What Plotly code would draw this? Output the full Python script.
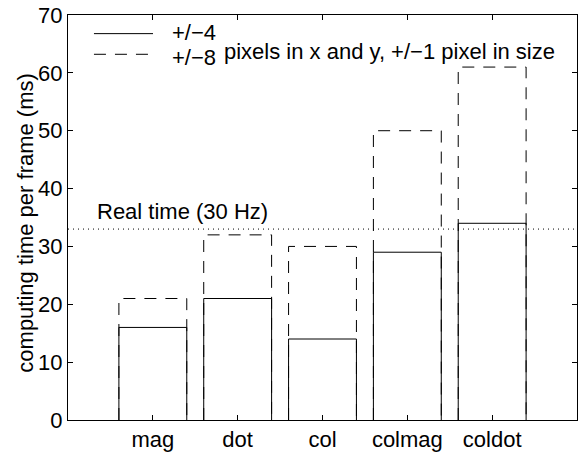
import plotly.graph_objects as go

categories = ["mag", "dot", "col", "colmag", "coldot"]
t_pm4 = [16, 21, 14, 29, 34]      # +/-4 search (solid)
t_pm8 = [21, 32, 30, 50, 61]      # +/-8 search (dashed)
realtime_ms = 33                  # 30 Hz limit
y_ticks = [0, 10, 20, 30, 40, 50, 60, 70]
legend_labels = ["+/\u22124", "+/\u22128"]
legend_note = "pixels in x and y, +/\u22121 pixel in size"
realtime_label = "Real time (30 Hz)"
y_title = "computing time per frame (ms)"

FONT = "Liberation Sans, Arial, Helvetica, sans-serif"
FS = 22
bar_w = 0.8
DASH = "12px,9px"

fig = go.Figure()

def bar_outline(values, dash, name):
    xs, ys = [], []
    for i, v in enumerate(values, start=1):
        xs += [i - bar_w / 2, i - bar_w / 2, i + bar_w / 2, i + bar_w / 2, None]
        ys += [0, v, v, 0, None]
    fig.add_trace(go.Scatter(x=xs, y=ys, mode="lines", name=name,
                             line=dict(color="black", width=1, dash=dash),
                             showlegend=False, hoverinfo="skip"))

bar_outline(t_pm8, DASH, legend_labels[1])
bar_outline(t_pm4, "solid", legend_labels[0])

# real-time line
fig.add_shape(type="line", xref="paper", x0=0, x1=1, yref="y",
              y0=realtime_ms, y1=realtime_ms,
              line=dict(color="black", width=1, dash="1px,4px"))
fig.add_annotation(x=0.315, y=realtime_ms + 3.0, xref="x", yref="y",
                   text=realtime_label, showarrow=False, xanchor="left",
                   yanchor="middle", font=dict(family=FONT, size=FS, color="black"))

# legend drawn manually
fig.add_shape(type="line", xref="paper", yref="paper", x0=0.051, x1=0.167,
              y0=0.954, y1=0.954, line=dict(color="black", width=1))
fig.add_shape(type="line", xref="paper", yref="paper", x0=0.051, x1=0.167,
              y0=0.903, y1=0.903, line=dict(color="black", width=1, dash=DASH))
fig.add_annotation(x=0.201, y=0.956, xref="paper", yref="paper", text=legend_labels[0],
                   showarrow=False, xanchor="left", yanchor="middle",
                   font=dict(family=FONT, size=FS, color="black"))
fig.add_annotation(x=0.201, y=0.895, xref="paper", yref="paper", text=legend_labels[1],
                   showarrow=False, xanchor="left", yanchor="middle",
                   font=dict(family=FONT, size=FS, color="black"))
fig.add_annotation(x=0.303, y=0.910, xref="paper", yref="paper", text=legend_note,
                   showarrow=False, xanchor="left", yanchor="middle",
                   font=dict(family=FONT, size=FS, color="black"))

# y-axis title
fig.add_annotation(x=-0.083, y=0.4866, xref="paper", yref="paper", text=y_title,
                   textangle=-90, showarrow=False, xanchor="center", yanchor="middle",
                   font=dict(family=FONT, size=FS, color="black"))

fig.update_layout(
    width=581, height=455,
    margin=dict(l=68, r=3, t=13, b=32, pad=0),
    paper_bgcolor="white", plot_bgcolor="white",
    font=dict(family=FONT, size=FS, color="black"),
    showlegend=False,
)
fig.update_xaxes(range=[0, 6], tickvals=list(range(1, len(categories) + 1)),
                 ticktext=categories, showgrid=False, zeroline=False,
                 showline=True, linecolor="black", linewidth=1, mirror="ticks",
                 ticks="inside", ticklen=5, tickcolor="black",
                 ticklabeloverflow="allow",
                 tickfont=dict(family=FONT, size=FS, color="black"))
fig.update_yaxes(range=[0, 70], tickvals=y_ticks, showgrid=False, zeroline=False,
                 showline=True, linecolor="black", linewidth=1, mirror="ticks",
                 ticks="inside", ticklen=5, tickcolor="black",
                 ticklabeloverflow="allow",
                 tickfont=dict(family=FONT, size=FS, color="black"))

fig.write_html("out.html", config={"displayModeBar": False},
               post_script="document.body.style.margin='0';")
